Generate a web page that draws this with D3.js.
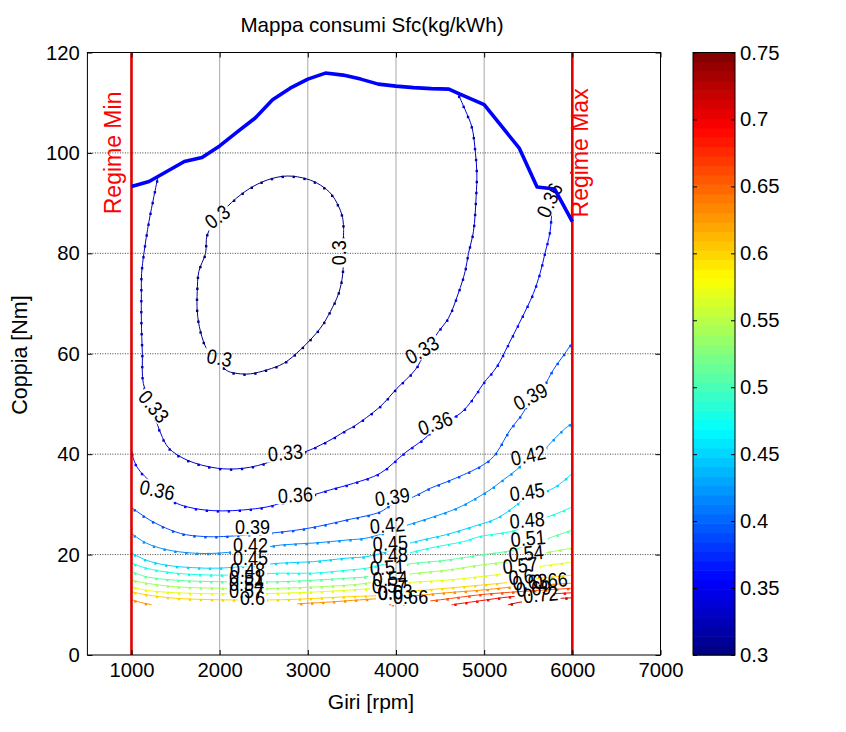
<!DOCTYPE html>
<html><head><meta charset="utf-8">
<script src="https://cdn.jsdelivr.net/npm/d3@7"></script>
<style>
body{margin:0;background:#fff;}
svg{display:block;font-family:"Liberation Sans",Arial,Helvetica,sans-serif;}
</style>
</head><body>
<svg id="c" width="846" height="732"></svg>
<script>
// ---------------- DATA ----------------
const xTicks = [1000,2000,3000,4000,5000,6000,7000];
const yTicks = [0,20,40,60,80,100,120];
const cbTicks = [0.3,0.35,0.4,0.45,0.5,0.55,0.6,0.65,0.7,0.75];

// Full-load torque curve
const fullLoadRpm = [1000,1200,1300,1600,1800,2000,2200,2400,2600,2800,3000,3200,3400,3600,3800,4000,4200,4400,4600,4700,5000,5400,5600,5800,6000];
const fullLoadNm  = [93.3,94.3,95.3,98.3,99.1,101.4,104.2,106.9,110.6,112.9,114.7,115.9,115.5,114.7,113.7,113.3,113.0,112.8,112.7,111.9,109.6,100.9,93.2,92.8,86.3];

// Contour lines [rpm, Nm] per level
const sfc030 = [[3406,84.7],[3388,87.6],[3275,91.6],[3142,93.6],[2991,94.8],[2765,95.4],[2539,94.6],[2312,92.6],[2086,89.3],[1972,86.8],[1859,83.7],[1840,80],[1764,76.4],[1746,72.4],[1746,68.4],[1783,64.4],[1859,60.8],[1990,58.4],[2086,56.6],[2236,56],[2349,56],[2539,56.8],[2727,58.1],[2916,60.8],[3142,65.1],[3255,68.4],[3349,72],[3395,75.7],[3402,80],[3406,84.7]];
const sfc033 = [[1300,95.2],[1254,91.3],[1198,86.3],[1141,80],[1115,76],[1112,72],[1112,66.7],[1123,60.1],[1134,54.1],[1230,49.5],[1330,44.2],[1424,41.2],[1633,38.8],[1972,37.2],[2273,37.2],[2576,38.5],[2746,40.0],[2953,40.4],[3142,41.8],[3293,43.2],[3444,44.8],[3519,45.5],[3822,49.5],[4011,53.1],[4218,56.8],[4330,60.2],[4482,64.4],[4595,67.1],[4708,72.1],[4784,76.4],[4822,80],[4878,84.3],[4909,91.3],[4917,96],[4898,100.6],[4860,105.2],[4784,108.6],[4708,111.6]];
const sfc036 = [[1000,40.8],[1028,38.8],[1084,36.9],[1283,33.4],[1481,30.5],[1633,29.5],[1821,28.9],[2029,28.7],[2273,28.9],[2539,29.5],[2859,31.1],[3066,31.9],[3255,32.9],[3519,34.2],[3822,36.2],[4105,40.3],[4351,43.5],[4445,45.5],[4728,48.1],[4878,51.1],[4992,54.1],[5143,57.4],[5275,61.8],[5370,65.1],[5483,69.1],[5558,72],[5634,76],[5690,80],[5747,84.3],[5770,89],[5790,92.7]];
const sfc039 = [[1000,29.4],[1236,26.6],[1557,24.2],[1821,23.6],[2047,23.6],[2369,24.0],[2539,24.2],[2992,25.2],[3444,26.9],[3822,28.5],[3957,30.0],[4199,31.5],[4388,33.2],[4577,34.5],[4765,35.9],[4954,37.5],[5105,39.5],[5294,44.8],[5444,48.3],[5524,51.0],[5671,53.4],[5784,56.8],[5917,60.1],[6000,62.2]];
const sfc042 = [[1000,24.2],[1166,22.3],[1393,21.0],[1690,20.3],[2000,20.3],[2350,21.0],[2690,21.9],[3064,22.3],[3444,22.9],[3670,23.3],[3900,24.5],[4083,25.6],[4388,27.3],[4690,29.2],[4878,30.9],[5067,32.9],[5218,34.9],[5369,36.9],[5500,39.2],[5671,40.8],[5784,42.8],[5897,44.8],[6000,46.2]];
const sfc045 = [[1000,20.3],[1166,18.9],[1393,17.9],[1690,17.4],[2000,17.3],[2350,17.8],[2690,18.3],[3064,18.6],[3444,19.3],[3670,19.6],[3935,20.8],[4083,21.9],[4300,22.9],[4577,24.0],[4878,25.6],[5143,27.2],[5369,29.9],[5487,31.5],[5784,33.2],[6000,36.2]];
const sfc048 = [[1000,18.3],[1166,17.3],[1500,16.3],[2000,15.9],[2350,16.1],[2690,16.3],[3064,16.3],[3444,16.9],[3670,17.3],[3935,18.5],[4083,19.9],[4388,21.3],[4765,22.6],[4954,23.6],[5369,24.9],[5487,26.2],[5784,27.9],[6000,29.5]];
const sfc051 = [[1000,16.6],[1166,15.6],[1500,14.9],[2000,14.6],[2690,14.6],[3444,15.3],[3670,15.6],[3900,16.7],[4083,17.9],[4577,18.9],[4954,19.9],[5331,20.9],[5498,22.0],[5671,22.9],[6000,24.9]];
const sfc054 = [[1000,14.9],[1166,14.3],[1500,13.6],[2000,13.3],[2690,13.3],[3444,13.9],[3670,14.3],[3935,15.1],[4083,15.9],[4577,16.9],[4954,17.9],[5257,18.6],[5476,19.6],[6000,21.3]];
const sfc057 = [[1000,13.6],[1166,12.9],[1500,12.4],[2000,12.2],[2690,12.3],[3444,12.9],[3924,13.6],[4083,14.3],[4577,14.9],[4954,15.6],[5257,16.3],[5408,17.0],[6000,18.5]];
const sfc060 = [[1000,12.6],[1166,12.0],[1500,11.3],[2000,11.0],[2690,11.0],[3444,11.6],[3935,12.0],[4083,12.5],[4577,13.3],[4954,13.9],[5300,14.5],[5498,15.0],[6000,15.9]];
const sfc063a = [[1000,11.0],[1100,10.5],[1230,10.0]];
const sfc063b = [[2880,10.2],[3200,10.5],[3444,10.8],[4083,11.6],[4577,12.4],[4954,12.9],[5300,13.5],[6000,14.3]];
const sfc066 = [[3920,10.0],[4083,10.2],[4502,11.0],[4954,12.0],[5300,12.5],[6000,13.3]];
const sfc069 = [[4630,10.0],[4954,10.8],[5300,11.6],[6000,12.4]];
const sfc072 = [[5270,10.0],[5500,10.8],[6000,11.4]];

const contourLevels = [0.30,0.33,0.36,0.39,0.42,0.45,0.48,0.51,0.54,0.57,0.60,0.63,0.66,0.69,0.72];
const contourSegments = [[sfc030],[sfc033],[sfc036],[sfc039],[sfc042],[sfc045],[sfc048],[sfc051],[sfc054],[sfc057],[sfc060],[sfc063a,sfc063b],[sfc066],[sfc069],[sfc072]];

// Inline labels: [level, rpm, Nm, angle]
const contourLabels = [
 [0.30,1972,87.3,-37],[0.30,3346,80.1,-90],[0.30,1998,59.2,10],
 [0.33,1254,49.5,50],[0.33,2746,40.3,-5],[0.33,4294,60.8,-30],
 [0.36,5740,90.6,-65],[0.36,4445,46.2,-20],[0.36,2859,31.9,-3],[0.36,1293,32.9,12],
 [0.39,5524,51.5,-28],[0.39,3958,31.5,-8],[0.39,2373,25.5,0],
 [0.42,5498,39.8,-12],[0.42,3901,25.9,-5],[0.42,2350,21.9,0],
 [0.45,5487,32.5,-8],[0.45,3935,22.3,-3],[0.45,2350,19.3,0],
 [0.48,5487,26.9,-5],[0.48,3935,19.9,-3],[0.48,2316,17.1,0],
 [0.51,5498,23.3,-5],[0.51,3901,17.5,-3],[0.51,2305,15.7,0],
 [0.54,5476,20.3,-5],[0.54,3935,15.3,-3],[0.54,2305,14.3,0],
 [0.57,5408,17.9,-5],[0.57,3924,13.9,-3],[0.57,2305,12.9,0],
 [0.60,2373,11.4,0],[0.60,3935,12.5,-3],[0.60,5420,15.6,-5],
 [0.63,3990,12.6,-3],[0.63,5520,14.6,-5],
 [0.66,4166,11.6,0],[0.66,5747,14.9,-5],
 [0.69,5560,13.3,-5],[0.72,5640,12.1,-5]
];

// ---------------- DRAW ----------------
const W=846,H=732;
const P={l:87.4,r:660.5,t:52.5,b:655};
const x=d3.scaleLinear().domain([500,7000]).range([P.l,P.r]);
const y=d3.scaleLinear().domain([0,120]).range([P.b,P.t]);
function jet(t){const c=v=>Math.max(0,Math.min(1,v));
  return d3.rgb(255*c(1.5-Math.abs(4*t-3)),255*c(1.5-Math.abs(4*t-2)),255*c(1.5-Math.abs(4*t-1))).toString();}
const color=d3.scaleSequential(jet).domain([0.3,0.75]);
const fmt=v=>String(+v.toFixed(2));

const svg=d3.select('#c');
const defs=svg.append('defs');
svg.append('rect').attr('width',W).attr('height',H).attr('fill','#fff');

// grid
svg.append('g').selectAll('line').data(xTicks.filter(d=>d<7000)).join('line')
  .attr('x1',d=>x(d)).attr('x2',d=>x(d)).attr('y1',P.t).attr('y2',P.b)
  .attr('stroke','#a8a8a8').attr('stroke-width',1);
svg.append('g').selectAll('line').data(yTicks.filter(d=>d>0&&d<120)).join('line')
  .attr('x1',P.l).attr('x2',P.r).attr('y1',d=>y(d)).attr('y2',d=>y(d))
  .attr('stroke','#404040').attr('stroke-width',1).attr('stroke-dasharray','1,1.5');

// measuring helper
const LBL_FS=20.5, LBL_SX=0.88;
const meas=svg.append('text').attr('font-size',LBL_FS).attr('visibility','hidden');
function textW(s){meas.text(s);return meas.node().getComputedTextLength()*LBL_SX;}

// contours
const lineGen=d3.line().x(d=>x(d[0])).y(d=>y(d[1])).curve(d3.curveCatmullRom.alpha(0.5));
contourLevels.forEach((lv,i)=>{
  const col=color(lv);
  const labs=contourLabels.filter(l=>Math.abs(l[0]-lv)<1e-6);
  const mid='mk'+i;
  const m=defs.append('mask').attr('id',mid).attr('maskUnits','userSpaceOnUse')
    .attr('x',0).attr('y',0).attr('width',W).attr('height',H);
  m.append('rect').attr('width',W).attr('height',H).attr('fill','#fff');
  labs.forEach(l=>{const w=textW(fmt(l[0]));
    m.append('rect').attr('x',-w/2-2).attr('y',-8.5).attr('width',w+4).attr('height',17)
     .attr('transform',`translate(${x(l[1])},${y(l[2])}) rotate(${l[3]})`).attr('fill','#000');});
  const g=svg.append('g').attr('mask',`url(#${mid})`);
  contourSegments[i].forEach(seg=>{
    const p=g.append('path').attr('d',lineGen(seg)).attr('fill','none')
      .attr('stroke',col).attr('stroke-width',1);
    const L=p.node().getTotalLength();
    for(let s=4;s<L;s+=11){const pt=p.node().getPointAtLength(s);
      g.append('rect').attr('x',pt.x-1.2).attr('y',pt.y-0.6).attr('width',2.4).attr('height',2.4).attr('fill',col);}
  });
});
meas.remove();

// contour labels
svg.append('g').selectAll('text').data(contourLabels).join('text')
  .attr('transform',d=>`translate(${x(d[1])},${y(d[2])}) rotate(${d[3]}) scale(${LBL_SX},1)`)
  .attr('text-anchor','middle').attr('dy','0.36em').attr('font-size',LBL_FS).attr('fill','#000')
  .text(d=>fmt(d[0]));

// regime lines
svg.append('g').selectAll('line').data([1000,6000]).join('line')
  .attr('x1',d=>x(d)).attr('x2',d=>x(d)).attr('y1',P.t).attr('y2',P.b)
  .attr('stroke','#e00000').attr('stroke-width',2.6);

// full-load curve
const fl=fullLoadRpm.map((r,i)=>[r,fullLoadNm[i]]);
svg.append('path').attr('d',d3.line().x(d=>x(d[0])).y(d=>y(d[1]))(fl))
  .attr('fill','none').attr('stroke','#0000ff').attr('stroke-width',3.6).attr('stroke-linejoin','round');

// regime texts
svg.append('text').attr('transform',`translate(${x(1000)-10},${y(100)}) rotate(-90)`)
  .attr('text-anchor','middle').attr('font-size',23).attr('fill','#ff0000').text('Regime Min');
svg.append('text').attr('transform',`translate(${x(6000)+16},${y(100)}) rotate(-90)`)
  .attr('text-anchor','middle').attr('font-size',23).attr('fill','#ff0000').text('Regime Max');

// axes box
svg.append('rect').attr('x',P.l).attr('y',P.t).attr('width',P.r-P.l).attr('height',P.b-P.t)
  .attr('fill','none').attr('stroke','#000').attr('stroke-width',1);

const TFS=20.3;
function styleAxis(g){g.select('.domain').remove();g.selectAll('line').attr('stroke','#000');
  g.selectAll('text').attr('font-size',TFS).attr('font-family','"Liberation Sans",Arial,sans-serif').attr('fill','#000');}
svg.append('g').attr('transform',`translate(0,${P.b})`)
  .call(d3.axisBottom(x).tickValues(xTicks).tickSize(-5).tickPadding(8).tickFormat(d3.format('d'))).call(styleAxis);
svg.append('g').attr('transform',`translate(0,${P.t})`)
  .call(d3.axisTop(x).tickValues(xTicks).tickSize(-5).tickFormat('')).call(styleAxis);
svg.append('g').attr('transform',`translate(${P.l},0)`)
  .call(d3.axisLeft(y).tickValues(yTicks).tickSize(-5).tickPadding(7.5).tickFormat(d3.format('d'))).call(styleAxis);
svg.append('g').attr('transform',`translate(${P.r},0)`)
  .call(d3.axisRight(y).tickValues(yTicks).tickSize(-5).tickFormat('')).call(styleAxis);

// colorbar
const CB={l:693,r:735};
const cy=d3.scaleLinear().domain([0.3,0.75]).range([P.b,P.t]);
const N=64, step=0.45/N;
const bands=d3.range(N).map(i=>0.3+i*step);
svg.append('g').selectAll('rect').data(bands).join('rect')
  .attr('x',CB.l).attr('width',CB.r-CB.l)
  .attr('y',d=>cy(d+step)).attr('height',d=>cy(d)-cy(d+step)+0.6)
  .attr('fill',d=>color(d+step/2));
svg.append('rect').attr('x',CB.l).attr('y',P.t).attr('width',CB.r-CB.l).attr('height',P.b-P.t)
  .attr('fill','none').attr('stroke','#000').attr('stroke-width',1);
svg.append('g').attr('transform',`translate(${CB.r},0)`)
  .call(d3.axisRight(cy).tickValues(cbTicks).tickSize(-4).tickPadding(5).tickFormat(fmt)).call(styleAxis);
svg.append('g').attr('transform',`translate(${CB.l},0)`)
  .call(d3.axisLeft(cy).tickValues(cbTicks).tickSize(-4).tickFormat('')).call(styleAxis);

// titles
svg.append('text').attr('x',372).attr('y',32).attr('text-anchor','middle')
  .attr('font-size',20.6).text('Mappa consumi Sfc(kg/kWh)');
svg.append('text').attr('x',371).attr('y',709).attr('text-anchor','middle')
  .attr('font-size',21).text('Giri [rpm]');
svg.append('text').attr('transform',`translate(27,355) rotate(-90)`).attr('text-anchor','middle')
  .attr('font-size',21.5).text('Coppia [Nm]');
</script>
</body></html>
